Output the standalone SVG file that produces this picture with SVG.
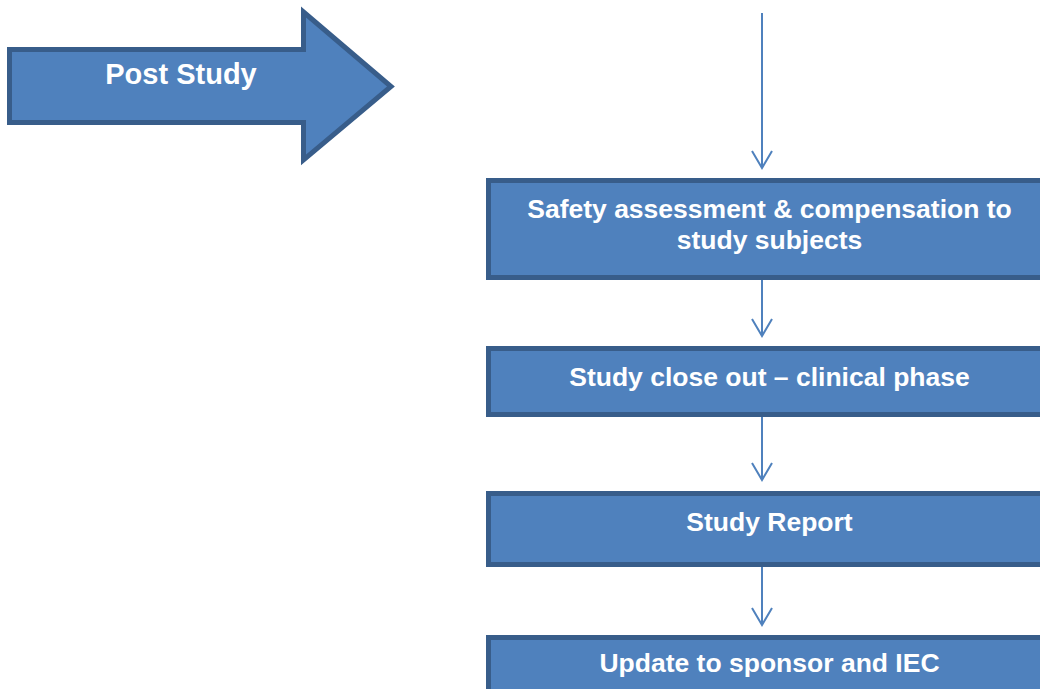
<svg xmlns="http://www.w3.org/2000/svg" width="1040" height="689" viewBox="0 0 1040 689">
<style>
.shape{fill:#4F81BD;stroke:#385D8A;stroke-width:5}
.lbl{font-family:"Liberation Sans",Arial,sans-serif;font-weight:bold;font-size:26.5px;fill:#FFFFFF;text-anchor:middle}
.big{font-size:29px}
.conn{stroke:#4F81BD;stroke-width:2;fill:none}
</style>
<g id="post-study">
<polygon class="shape" points="9.5,49.5 303.5,49.5 303.5,12 391,86.5 303.5,160 303.5,122.5 9.5,122.5"/>
<text class="lbl big" x="181" y="84">Post Study</text>
</g>
<g id="connectors">
<path class="conn" d="M762,13 V168"/>
<path class="conn" d="M762,280 V336"/>
<path class="conn" d="M762,417 V480"/>
<path class="conn" d="M762,567 V625"/>
<path class="conn" d="M752,151 L762,168 L772,151"/>
<path class="conn" d="M752,319 L762,336 L772,319"/>
<path class="conn" d="M752,463 L762,480 L772,463"/>
<path class="conn" d="M752,608 L762,625 L772,608"/>
</g>
<g id="safety">
<rect class="shape" x="488.5" y="180.5" width="570" height="97"/>
<text class="lbl" x="769.5" y="218">Safety assessment &amp; compensation to</text>
<text class="lbl" x="769.5" y="249">study subjects</text>
</g>
<g id="closeout">
<rect class="shape" x="488.5" y="348.5" width="570" height="66"/>
<text class="lbl" x="769.5" y="386">Study close out – clinical phase</text>
</g>
<g id="report">
<rect class="shape" x="488.5" y="493.5" width="570" height="71"/>
<text class="lbl" x="769.5" y="531">Study Report</text>
</g>
<g id="update">
<rect class="shape" x="488.5" y="637.5" width="570" height="80"/>
<text class="lbl" x="769.5" y="672">Update to sponsor and IEC</text>
</g>
</svg>
